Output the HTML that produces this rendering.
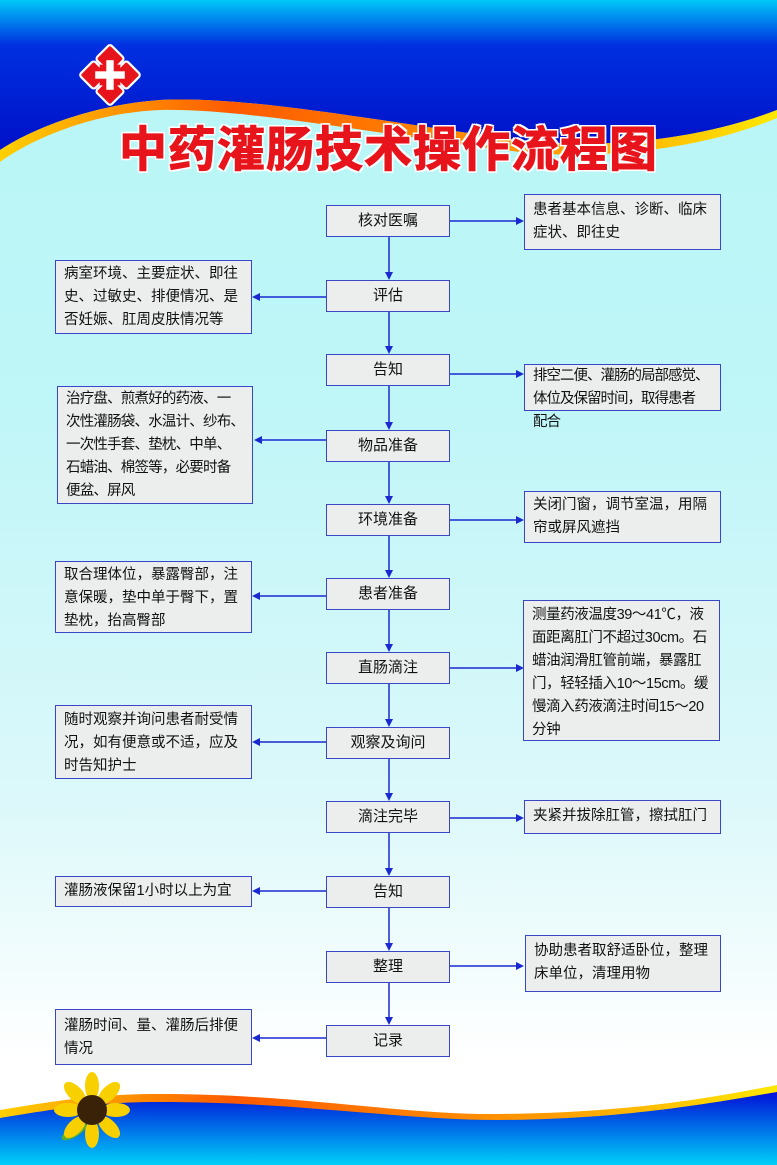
<!DOCTYPE html>
<html><head><meta charset="utf-8"><style>
*{margin:0;padding:0;box-sizing:border-box}
body{width:777px;height:1165px;position:relative;overflow:hidden;font-family:"Liberation Sans","Noto Sans CJK SC",sans-serif;background:linear-gradient(#b8f6f6 0px,#bff6f8 400px,#dcf8fa 800px,#ffffff 1060px)}
.bg{position:absolute;left:0;top:0}
.c{position:absolute;left:326px;width:124px;height:32px;background:#eceeee;border:1.5px solid #3a46c8;font-size:15px;line-height:29px;text-align:center;color:#111}
.s{position:absolute;background:#eceeee;border:1.5px solid #3a46c8;font-size:14.5px;line-height:23px;color:#111;padding:4px 0 0 8px;white-space:nowrap;overflow:hidden}
.t{position:absolute;left:0;width:777px;top:121px;text-align:center;font-size:48px;line-height:60px;font-weight:bold;color:#e8141c;letter-spacing:1px;-webkit-text-stroke:1px #e8141c;text-shadow:2px 0 #fff,-2px 0 #fff,0 2px #fff,0 -2px #fff,2px 2px #fff,-2px -2px #fff,2px -2px #fff,-2px 2px #fff}
</style></head><body>
<svg class="bg" width="777" height="1165">
<defs>
<linearGradient id="tb" x1="0" y1="0" x2="0" y2="1"><stop offset="0" stop-color="#00c8f8"/><stop offset="0.3" stop-color="#0030e0"/><stop offset="1" stop-color="#0010c8"/></linearGradient>
<linearGradient id="bb" x1="0" y1="0" x2="0" y2="1"><stop offset="0" stop-color="#0010d8"/><stop offset="1" stop-color="#00d0f8"/></linearGradient>
<linearGradient id="or" x1="0" y1="0" x2="1" y2="0"><stop offset="0" stop-color="#ffd000"/><stop offset="0.3" stop-color="#ff5a00"/><stop offset="0.7" stop-color="#ff9a00"/><stop offset="1" stop-color="#ffe800"/></linearGradient>
</defs>
<path d="M0 0H777V110C700 140 600 150 520 140C400 125 250 95 160 100C90 105 30 130 0 150Z" fill="url(#tb)"/>
<path d="M0 150C30 130 90 105 160 100C250 95 400 125 520 140C600 150 700 140 777 110V118C700 150 600 160 520 152C400 138 250 108 160 110C90 113 30 140 0 162Z" fill="url(#or)"/>
<path d="M0 1110C60 1100 100 1094 160 1094C300 1094 400 1115 500 1114C620 1113 700 1100 777 1085V1165H0Z" fill="url(#or)"/>
<path d="M0 1118C60 1108 100 1102 160 1102C300 1102 400 1120 500 1120C620 1119 700 1105 777 1092V1165H0Z" fill="url(#bb)"/>
<g transform="translate(110,75) scale(0.74)" stroke="#fff" stroke-width="3" fill="#e8141c">
<rect x="-14" y="-36" width="28" height="28" rx="4" transform="rotate(45 0 -22)"/>
<rect x="-14" y="8" width="28" height="28" rx="4" transform="rotate(45 0 22)"/>
<rect x="-36" y="-14" width="28" height="28" rx="4" transform="rotate(45 -22 0)"/>
<rect x="8" y="-14" width="28" height="28" rx="4" transform="rotate(45 22 0)"/>
<rect x="-14" y="-14" width="28" height="28" stroke="none"/>
<rect x="-5" y="-20" width="10" height="40" fill="#fff" stroke="none"/><rect x="-20" y="-5" width="40" height="10" fill="#fff" stroke="none"/>
</g>
<g transform="translate(92,1110)">
<ellipse cx="-18" cy="22" rx="14" ry="5" fill="#5ab030" transform="rotate(-30 -18 22)"/>
<g fill="#f8d000">
<ellipse cx="0" cy="-24" rx="7" ry="14"/><ellipse cx="0" cy="24" rx="7" ry="14"/><ellipse cx="-24" cy="0" rx="14" ry="7"/><ellipse cx="24" cy="0" rx="14" ry="7"/>
<ellipse cx="17" cy="17" rx="7" ry="14" transform="rotate(-45 17 17)"/><ellipse cx="-17" cy="-17" rx="7" ry="14" transform="rotate(-45 -17 -17)"/>
<ellipse cx="17" cy="-17" rx="7" ry="14" transform="rotate(45 17 -17)"/><ellipse cx="-17" cy="17" rx="7" ry="14" transform="rotate(45 -17 17)"/>
</g>
<circle r="15" fill="#3a2208"/>
</g>
<g stroke="#1a2ad0" stroke-width="1.5" fill="#1a2ad0">
<line x1="389" y1="237" x2="389" y2="274"/><polygon points="385,272 393,272 389,280" stroke="none"/>
<line x1="389" y1="312" x2="389" y2="348"/><polygon points="385,346 393,346 389,354" stroke="none"/>
<line x1="389" y1="386" x2="389" y2="424"/><polygon points="385,422 393,422 389,430" stroke="none"/>
<line x1="389" y1="462" x2="389" y2="498"/><polygon points="385,496 393,496 389,504" stroke="none"/>
<line x1="389" y1="536" x2="389" y2="572"/><polygon points="385,570 393,570 389,578" stroke="none"/>
<line x1="389" y1="610" x2="389" y2="646"/><polygon points="385,644 393,644 389,652" stroke="none"/>
<line x1="389" y1="684" x2="389" y2="721"/><polygon points="385,719 393,719 389,727" stroke="none"/>
<line x1="389" y1="759" x2="389" y2="795"/><polygon points="385,793 393,793 389,801" stroke="none"/>
<line x1="389" y1="833" x2="389" y2="870"/><polygon points="385,868 393,868 389,876" stroke="none"/>
<line x1="389" y1="908" x2="389" y2="945"/><polygon points="385,943 393,943 389,951" stroke="none"/>
<line x1="389" y1="983" x2="389" y2="1019"/><polygon points="385,1017 393,1017 389,1025" stroke="none"/>
<line x1="450" y1="221" x2="518" y2="221"/><polygon points="516,217 516,225 524,221" stroke="none"/>
<line x1="450" y1="374" x2="518" y2="374"/><polygon points="516,370 516,378 524,374" stroke="none"/>
<line x1="450" y1="520" x2="518" y2="520"/><polygon points="516,516 516,524 524,520" stroke="none"/>
<line x1="450" y1="668" x2="518" y2="668"/><polygon points="516,664 516,672 524,668" stroke="none"/>
<line x1="450" y1="818" x2="518" y2="818"/><polygon points="516,814 516,822 524,818" stroke="none"/>
<line x1="450" y1="966" x2="518" y2="966"/><polygon points="516,962 516,970 524,966" stroke="none"/>
<line x1="326" y1="297" x2="258" y2="297"/><polygon points="260,293 260,301 252,297" stroke="none"/>
<line x1="326" y1="440" x2="260" y2="440"/><polygon points="262,436 262,444 254,440" stroke="none"/>
<line x1="326" y1="596" x2="258" y2="596"/><polygon points="260,592 260,600 252,596" stroke="none"/>
<line x1="326" y1="742" x2="258" y2="742"/><polygon points="260,738 260,746 252,742" stroke="none"/>
<line x1="326" y1="891" x2="258" y2="891"/><polygon points="260,887 260,895 252,891" stroke="none"/>
<line x1="326" y1="1038" x2="258" y2="1038"/><polygon points="260,1034 260,1042 252,1038" stroke="none"/>
</g>
</svg>
<div class="t">中药灌肠技术操作流程图</div>

<div class="c" style="top:205px">核对医嘱</div>
<div class="c" style="top:280px">评估</div>
<div class="c" style="top:354px">告知</div>
<div class="c" style="top:430px">物品准备</div>
<div class="c" style="top:504px">环境准备</div>
<div class="c" style="top:578px">患者准备</div>
<div class="c" style="top:652px">直肠滴注</div>
<div class="c" style="top:727px">观察及询问</div>
<div class="c" style="top:801px">滴注完毕</div>
<div class="c" style="top:876px">告知</div>
<div class="c" style="top:951px">整理</div>
<div class="c" style="top:1025px">记录</div>

<div class="s" style="left:524px;top:194px;width:197px;height:56px">患者基本信息、诊断、临床<br>症状、即往史</div>
<div class="s" style="left:524px;top:364px;width:197px;height:47px;padding-top:0;letter-spacing:-1px;overflow:visible">排空二便、灌肠的局部感觉、<br>体位及保留时间，取得患者<br>配合</div>
<div class="s" style="left:524px;top:491px;width:197px;height:52px;padding-top:2px">关闭门窗，调节室温，用隔<br>帘或屏风遮挡</div>
<div class="s" style="left:523px;top:600px;width:197px;height:141px;padding-top:3px;letter-spacing:-0.4px">测量药液温度39～41℃，液<br>面距离肛门不超过30cm。石<br>蜡油润滑肛管前端，暴露肛<br>门，轻轻插入10～15cm。缓<br>慢滴入药液滴注时间15～20<br>分钟</div>
<div class="s" style="left:524px;top:800px;width:197px;height:34px;padding-top:4px">夹紧并拔除肛管，擦拭肛门</div>
<div class="s" style="left:525px;top:935px;width:196px;height:57px;padding-top:4px">协助患者取舒适卧位，整理<br>床单位，清理用物</div>

<div class="s" style="left:55px;top:260px;width:197px;height:74px;padding-top:2px">病室环境、主要症状、即往<br>史、过敏史、排便情况、是<br>否妊娠、肛周皮肤情况等</div>
<div class="s" style="left:57px;top:386px;width:196px;height:118px;padding-top:1px;letter-spacing:-0.8px">治疗盘、煎煮好的药液、一<br>次性灌肠袋、水温计、纱布、<br>一次性手套、垫枕、中单、<br>石蜡油、棉签等，必要时备<br>便盆、屏风</div>
<div class="s" style="left:55px;top:561px;width:197px;height:72px;padding-top:2px">取合理体位，暴露臀部，注<br>意保暖，垫中单于臀下，置<br>垫枕，抬高臀部</div>
<div class="s" style="left:55px;top:705px;width:197px;height:74px;padding-top:3px">随时观察并询问患者耐受情<br>况，如有便意或不适，应及<br>时告知护士</div>
<div class="s" style="left:55px;top:876px;width:197px;height:31px;padding-top:3px">灌肠液保留1小时以上为宜</div>
<div class="s" style="left:55px;top:1009px;width:197px;height:56px;padding-top:5px">灌肠时间、量、灌肠后排便<br>情况</div>
</body></html>
